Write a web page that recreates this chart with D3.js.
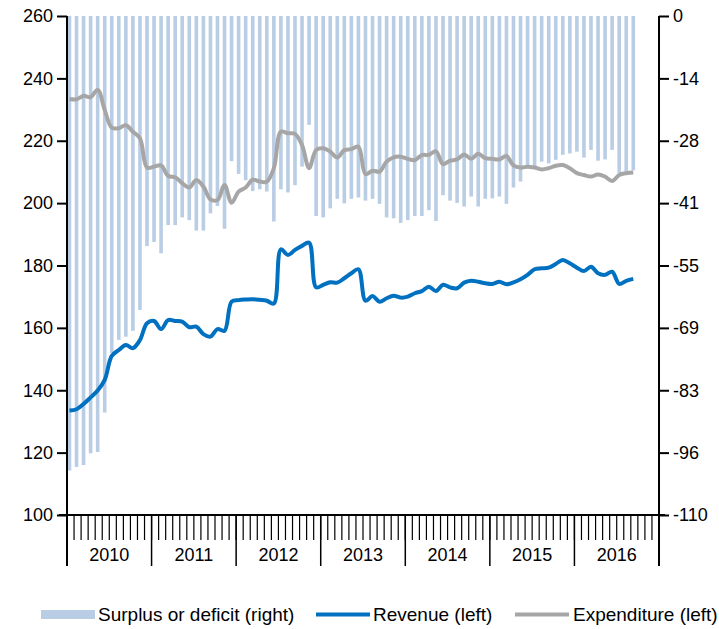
<!DOCTYPE html>
<html>
<head>
<meta charset="utf-8">
<script src="https://cdn.jsdelivr.net/npm/d3@7"></script>
<style>
  body { margin: 0; background: #fff; }
  text { font-family: "Liberation Sans", Arial, sans-serif; fill: #000; }
</style>
</head>
<body>
<svg id="chart" width="719" height="629"></svg>
<script>
// Calendar years shown on the category axis (12 monthly slots each)
const years = ["2010", "2011", "2012", "2013", "2014", "2015", "2016"];

// Left axis (revenue / expenditure) tick values
const leftTicks = [100, 120, 140, 160, 180, 200, 220, 240, 260];

// Right axis (surplus or deficit) tick labels, top to bottom
const rightTickLabels = ["0", "-14", "-28", "-41", "-55", "-69", "-83", "-96", "-110"];

// Monthly series, Jan 2010 – Sep 2016
const revenue = [
  133.5, 133.9, 135.6, 137.7, 139.9, 143.3, 151.0, 152.9, 154.5, 153.5,
  156.1, 161.5, 162.2, 159.6, 162.5, 162.2, 162.0, 160.2, 160.4, 158.0,
  157.2, 159.6, 159.1, 168.4, 168.9, 169.1, 169.2, 169.0, 168.7, 167.8,
  185.2, 183.4, 185.0, 186.3, 187.3, 173.0, 173.8, 174.6, 174.5, 175.9,
  177.5, 178.8, 168.7, 170.2, 168.4, 169.5, 170.3, 169.7, 170.0, 171.1,
  171.8, 173.2, 171.8, 173.8, 173.0, 172.7, 174.5, 175.1, 174.8, 174.3,
  174.1, 174.8, 174.0, 174.6, 175.6, 177.0, 178.8, 179.1, 179.3, 180.5,
  181.8, 180.7, 179.3, 178.2, 179.6, 177.5, 177.0, 178.0, 174.1, 175.1,
  175.7
];

const expenditure = [
  233.4, 233.3, 234.4, 234.0, 236.3, 229.9, 224.2, 224.0, 225.0, 222.9,
  220.8, 211.4, 211.7, 212.1, 208.7, 208.3, 206.4, 205.0, 207.4, 205.3,
  201.2, 201.0, 205.8, 200.1, 203.7, 205.0, 207.5, 206.9, 206.9, 211.2,
  222.9, 222.4, 222.2, 218.6, 211.2, 217.0, 217.6, 216.5, 214.6, 217.0,
  217.3, 218.1, 209.3, 210.4, 210.1, 213.3, 214.7, 214.9, 214.2, 213.8,
  215.4, 215.5, 216.6, 212.5, 213.6, 214.0, 215.6, 214.2, 215.8, 214.4,
  214.2, 214.0, 215.1, 212.1, 211.4, 211.7, 211.4, 210.8, 211.2, 212.0,
  212.2, 211.2, 209.6, 209.0, 208.5, 209.2, 208.5, 207.1, 209.0, 209.6,
  209.8
];

const balance = [
  -100.2, -99.4, -99.0, -96.4, -96.1, -87.4, -74.3, -71.4, -70.7, -69.4,
  -64.8, -50.7, -49.8, -52.3, -46.1, -46.1, -44.4, -45.0, -47.3, -47.3,
  -43.5, -41.9, -46.9, -32.0, -34.8, -36.2, -38.6, -38.2, -38.7, -45.3,
  -38.2, -38.9, -37.3, -33.2, -24.0, -44.1, -44.4, -42.4, -40.3, -41.3,
  -40.3, -40.0, -40.7, -40.3, -41.4, -44.4, -44.6, -45.6, -45.0, -44.1,
  -44.1, -42.8, -45.2, -39.5, -40.7, -41.2, -42.0, -39.8, -42.0, -40.3,
  -40.2, -39.8, -41.4, -37.8, -36.5, -33.2, -33.2, -32.1, -32.5, -31.7,
  -30.6, -30.3, -29.9, -31.2, -29.5, -31.9, -31.6, -29.5, -34.7, -34.3,
  -34.0
];

const seriesNames = ["Surplus or deficit (right)", "Revenue (left)", "Expenditure (left)"];
const colors = { bar: "#b9cde5", revenue: "#0070c0", expenditure: "#a6a6a6" };

const svg = d3.select("#chart");
const plot = { left: 67, right: 659, top: 16, bottom: 515 };
const nSlots = years.length * 12;

const x = d3.scaleLinear().domain([0, nSlots]).range([plot.left, plot.right]);
const pos = i => x(i + 0.35);
const yL = d3.scaleLinear().domain([100, 260]).range([plot.bottom, plot.top]);
const yR = d3.scaleLinear().domain([-110, 0]).range([plot.bottom, plot.top]);
const rightTicks = d3.range(rightTickLabels.length).map(k => -13.75 * k);

// Surplus / deficit bars hanging from the zero line at the top
const barW = 3.6;
svg.append("g").selectAll("rect").data(balance).join("rect")
  .attr("x", (d, i) => pos(i) - barW / 2)
  .attr("y", yR(0))
  .attr("width", barW)
  .attr("height", d => yR(d) - yR(0))
  .attr("fill", colors.bar);

// Revenue and expenditure lines (smoothed)
const line = d3.line()
  .x((d, i) => pos(i))
  .y(d => yL(d))
  .curve(d3.curveCatmullRom.alpha(0.5));

svg.append("path").datum(expenditure)
  .attr("d", line).attr("fill", "none")
  .attr("stroke", colors.expenditure).attr("stroke-width", 4)
  .attr("stroke-linejoin", "round");
svg.append("path").datum(revenue)
  .attr("d", line).attr("fill", "none")
  .attr("stroke", colors.revenue).attr("stroke-width", 4)
  .attr("stroke-linejoin", "round");

// Left axis
const gL = svg.append("g").attr("transform", `translate(${plot.left},0)`)
  .call(d3.axisLeft(yL).tickValues(leftTicks).tickSize(10).tickSizeOuter(0).tickPadding(4));
gL.select(".domain").remove();
gL.selectAll(".tick line").attr("stroke", "#000").attr("stroke-width", 2);
gL.selectAll(".tick text").style("font-size", "18px");

// Right axis
const gR = svg.append("g").attr("transform", `translate(${plot.right},0)`)
  .call(d3.axisRight(yR).tickValues(rightTicks).tickSize(10).tickSizeOuter(0).tickPadding(4)
    .tickFormat((d, i) => rightTickLabels[i]));
gR.select(".domain").remove();
gR.selectAll(".tick line").attr("stroke", "#000").attr("stroke-width", 2);
gR.selectAll(".tick text").style("font-size", "18px");

// Vertical axis lines (continue down as outer year separators)
svg.append("line").attr("x1", plot.left).attr("x2", plot.left)
  .attr("y1", plot.top).attr("y2", 566).attr("stroke", "#000").attr("stroke-width", 2);
svg.append("line").attr("x1", plot.right).attr("x2", plot.right)
  .attr("y1", plot.top).attr("y2", 566).attr("stroke", "#000").attr("stroke-width", 2);

// Category axis: monthly ticks, year separators and labels
const gX = svg.append("g");
gX.selectAll("line.month").data(d3.range(1, nSlots)).join("line")
  .attr("class", "month")
  .attr("x1", d => x(d)).attr("x2", d => x(d))
  .attr("y1", plot.bottom).attr("y2", 540)
  .attr("stroke", "#000").attr("stroke-width", 1.2);
gX.selectAll("line.year").data(d3.range(1, years.length)).join("line")
  .attr("class", "year")
  .attr("x1", d => x(d * 12)).attr("x2", d => x(d * 12))
  .attr("y1", plot.bottom).attr("y2", 566)
  .attr("stroke", "#000").attr("stroke-width", 1.5);
gX.selectAll("text").data(years).join("text")
  .attr("x", (d, i) => x(i * 12 + 6)).attr("y", 561)
  .attr("text-anchor", "middle").style("font-size", "18px")
  .text(d => d);
svg.append("line").attr("x1", 59).attr("x2", 665)
  .attr("y1", plot.bottom).attr("y2", plot.bottom)
  .attr("stroke", "#000").attr("stroke-width", 2);

// Legend
const lg = svg.append("g").style("font-size", "19px");
lg.append("rect").attr("x", 41).attr("y", 610).attr("width", 54).attr("height", 9).attr("fill", colors.bar);
lg.append("text").attr("x", 98).attr("y", 621).text(seriesNames[0]);
lg.append("line").attr("x1", 316).attr("x2", 370).attr("y1", 614.5).attr("y2", 614.5)
  .attr("stroke", colors.revenue).attr("stroke-width", 4);
lg.append("text").attr("x", 373).attr("y", 621).text(seriesNames[1]);
lg.append("line").attr("x1", 515).attr("x2", 569).attr("y1", 614.5).attr("y2", 614.5)
  .attr("stroke", colors.expenditure).attr("stroke-width", 4);
lg.append("text").attr("x", 573).attr("y", 621).text(seriesNames[2]);
</script>
</body>
</html>
